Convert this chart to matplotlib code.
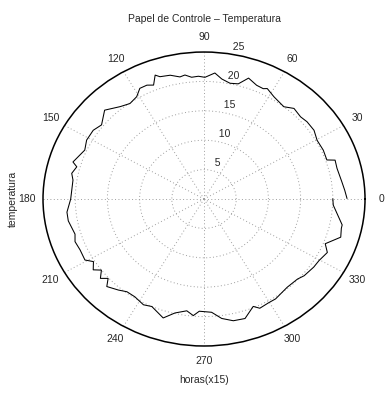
import numpy as np
import matplotlib.pyplot as plt

plt.rcParams['font.family'] = ['Liberation Sans', 'DejaVu Sans']

# leituras: angulo (horas x 15, em graus) e temperatura
horas_graus = [0.3, 3.9, 7.8, 14.2, 18.0, 19.2, 24.2, 29.6, 34.4, 39.4,
               43.0, 47.8, 51.7, 58.0, 62.4, 63.9, 67.1, 71.4, 74.8, 78.4,
               82.3, 85.5, 89.6, 92.4, 95.3, 98.0, 100.2, 104.0, 108.2, 109.8,
               112.0, 114.6, 117.9, 121.0, 125.3, 129.6, 135.6, 141.6, 145.8, 151.2,
               155.8, 162.8, 164.5, 168.0, 171.0, 180.0, 186.0, 190.0, 196.6, 199.9,
               204.2, 209.3, 211.8, 215.0, 217.2, 220.0, 222.2, 224.6, 229.4, 232.8,
               237.2, 242.4, 246.1, 252.6, 256.9, 262.0, 265.2, 267.8, 273.5, 277.7,
               282.4, 287.4, 292.7, 295.0, 299.5, 303.2, 310.7, 316.8, 320.0, 325.8,
               329.6, 334.6, 338.0, 343.0, 346.8, 348.4, 357.0, 360.0]
temperatura = [22.2, 21.9, 21.6, 21.3, 21.4, 20.2, 20.3, 20.2, 20.7, 20.7,
               20.5, 20.8, 20.0, 20.5, 21.2, 20.9, 21.0, 21.7, 20.3, 20.1,
               20.6, 21.5, 20.7, 20.9, 20.8, 21.3, 21.1, 21.7, 21.9, 22.4,
               20.9, 21.3, 21.3, 20.3, 19.9, 20.4, 21.6, 20.3, 20.8, 20.8,
               20.3, 21.3, 20.5, 21.0, 20.6, 20.7, 21.4, 21.4, 20.9, 21.3,
               21.1, 21.2, 20.2, 21.0, 20.0, 21.0, 20.1, 21.2, 20.4, 19.8,
               19.8, 20.3, 20.0, 21.2, 19.9, 19.2, 19.9, 19.1, 19.3, 20.5,
               21.2, 21.3, 19.8, 20.5, 20.3, 20.3, 19.8, 19.9, 20.3, 20.6,
               20.7, 21.2, 20.3, 22.2, 21.9, 21.9, 20.1, 20.0]

aneis = [5, 10, 15, 20, 25]
angulos = list(range(0, 360, 30))
rmax = 25
cor_txt = '0.15'

fig = plt.figure(figsize=(3.85, 3.93), dpi=100)
ax = fig.add_axes([0.1117, 0.1196, 0.8364, 0.748], projection='polar')
ax.set_aspect('auto')  # elipse como no MATLAB
ax.set_ylim(0, rmax)

ax.set_xticks(np.deg2rad(angulos))
ax.set_xticklabels([])
ax.set_yticks(aneis[:-1])
ax.set_yticklabels([])
ax.grid(True, color='0.62', linestyle=(0, (1, 2.5)), linewidth=0.7)
ax.spines['polar'].set_color('black')
ax.spines['polar'].set_linewidth(1.1)

ax.plot(np.deg2rad(horas_graus), temperatura, color='black', lw=0.75)

# rotulos dos angulos e dos aneis
for a in angulos:
    ax.text(np.deg2rad(a), 1.1 * rmax, str(a), ha='center', va='center',
            fontsize=7.5, color=cor_txt, clip_on=False)
for r in aneis:
    ax.text(np.deg2rad(82), r + 0.25, '  ' + str(r), ha='left', va='bottom',
            fontsize=7.5, color=cor_txt, clip_on=False)

fig.text(0.53, 0.952, 'Papel de Controle – Temperatura', ha='center',
         va='center', fontsize=7.5, color=cor_txt)
fig.text(0.53, 0.034, 'horas(x15)', ha='center', va='center', fontsize=7.5,
         color=cor_txt)
fig.text(0.034, 0.4936, 'temperatura', ha='center', va='center',
         rotation=90, fontsize=7.5, color=cor_txt)

fig.savefig('out.png', dpi=100)
